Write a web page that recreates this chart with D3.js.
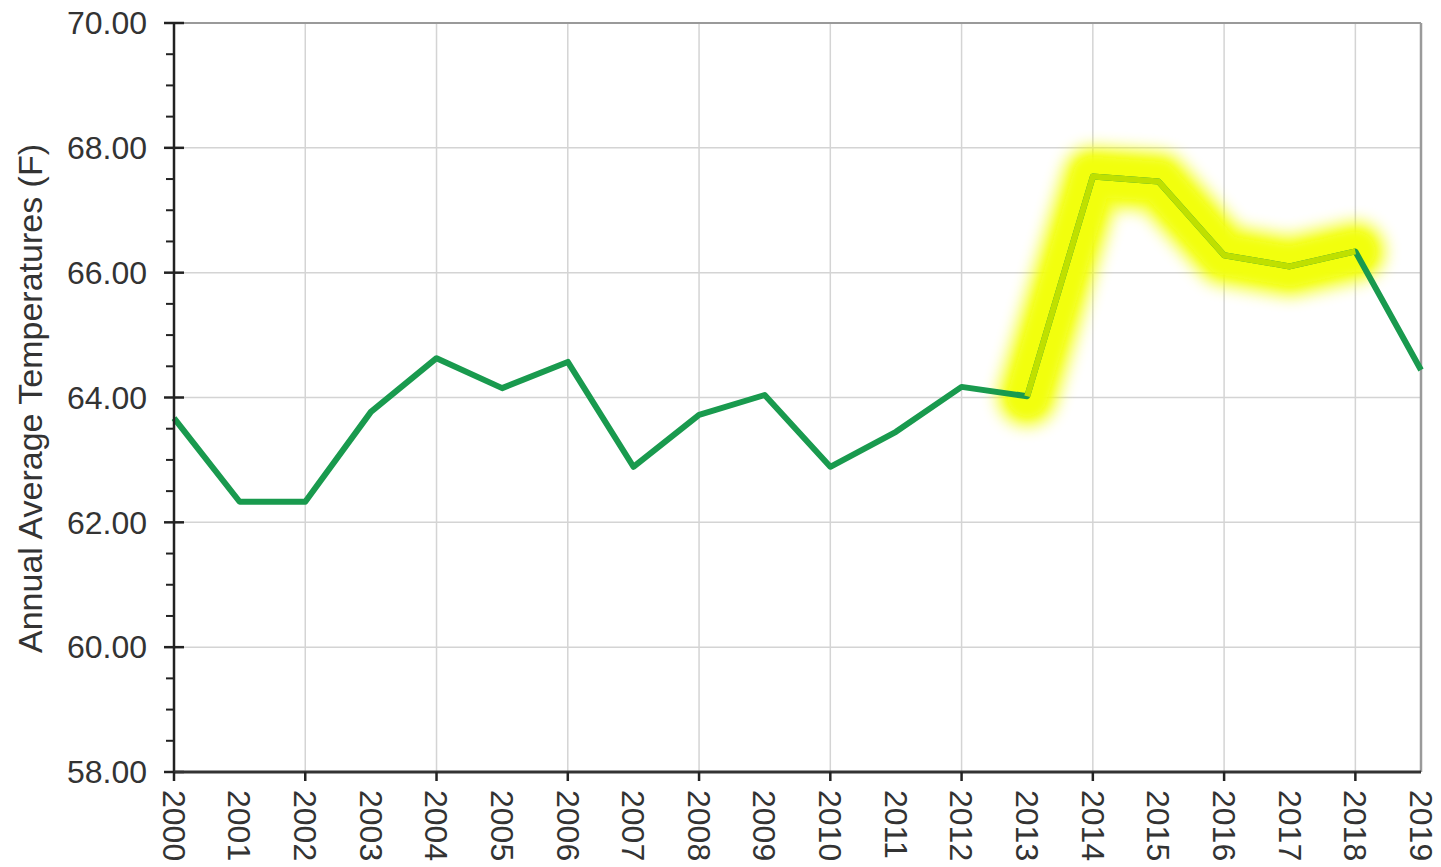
<!DOCTYPE html>
<html>
<head>
<meta charset="utf-8">
<script src="https://cdn.jsdelivr.net/npm/d3@7/dist/d3.min.js"></script>
<style>
  html, body { margin: 0; padding: 0; background: #fff; }
  svg { display: block; }
  text { font-family: "Liberation Sans", Arial, sans-serif; fill: #333; }
</style>
</head>
<body>
<svg id="chart" width="1441" height="867"></svg>
<script>
const years = [2000, 2001, 2002, 2003, 2004, 2005, 2006, 2007, 2008, 2009,
               2010, 2011, 2012, 2013, 2014, 2015, 2016, 2017, 2018, 2019];
const temps = [63.67, 62.33, 62.33, 63.77, 64.63, 64.15, 64.57, 62.89, 63.72, 64.04,
               62.89, 63.45, 64.17, 64.02, 67.54, 67.46, 66.28, 66.10, 66.34, 64.44];
const highlightYears = [2013, 2014, 2015, 2016, 2017, 2018];
const yMajorTicks = [58, 60, 62, 64, 66, 68, 70];
const yMinorTicks = d3.range(58, 70.01, 0.5);
const xGridYears = [2002, 2004, 2006, 2008, 2010, 2012, 2014, 2016, 2018];
const xTickYears = [2000, 2002, 2004, 2006, 2008, 2010, 2012, 2014, 2016, 2018];
const yTitle = "Annual Average Temperatures (F)";

const svg = d3.select("#chart");
const m = { left: 174, right: 1421, top: 23, bottom: 772 };

const x = d3.scaleLinear().domain([2000, 2019]).range([m.left, m.right]);
const y = d3.scaleLinear().domain([58, 70]).range([m.bottom, m.top]);

const defs = svg.append("defs");
defs.append("filter").attr("id", "glow")
  .attr("x", "-30%").attr("y", "-30%").attr("width", "160%").attr("height", "160%")
  .append("feGaussianBlur").attr("stdDeviation", 8);
defs.append("filter").attr("id", "glow2")
  .attr("x", "-30%").attr("y", "-30%").attr("width", "160%").attr("height", "160%")
  .append("feGaussianBlur").attr("stdDeviation", 4);

// grid lines
svg.append("g").selectAll("line").data(yMajorTicks.filter(d => d > 58 && d < 70)).join("line")
  .attr("x1", m.left).attr("x2", m.right)
  .attr("y1", d => y(d)).attr("y2", d => y(d))
  .attr("stroke", "#d4d4d4").attr("stroke-width", 1.5);
svg.append("g").selectAll("line").data(xGridYears).join("line")
  .attr("x1", d => x(d)).attr("x2", d => x(d))
  .attr("y1", m.top).attr("y2", m.bottom)
  .attr("stroke", "#d4d4d4").attr("stroke-width", 1.5);

// frame top/right
svg.append("line").attr("x1", m.left).attr("x2", m.right).attr("y1", y(70)).attr("y2", y(70))
  .attr("stroke", "#9a9a9a").attr("stroke-width", 2);
svg.append("line").attr("x1", x(2019)).attr("x2", x(2019)).attr("y1", m.top).attr("y2", m.bottom)
  .attr("stroke", "#9a9a9a").attr("stroke-width", 2.5);

const line = d3.line().x(d => x(d[0])).y(d => y(d[1]));
const pts = years.map((yr, i) => [yr, temps[i]]);
const hPts = pts.filter(p => highlightYears.includes(p[0]));

// highlight glow (under the line)
svg.append("path").datum(hPts)
  .attr("d", line)
  .attr("fill", "none")
  .attr("stroke", "#f2ff00")
  .attr("stroke-width", 60)
  .attr("stroke-linejoin", "round")
  .attr("stroke-linecap", "round")
  .attr("opacity", 0.85)
  .attr("filter", "url(#glow)");
svg.append("path").datum(hPts)
  .attr("d", line)
  .attr("fill", "none")
  .attr("stroke", "#f2ff08")
  .attr("stroke-width", 40)
  .attr("stroke-linejoin", "round")
  .attr("stroke-linecap", "round")
  .attr("filter", "url(#glow2)");

// data line
svg.append("path").datum(pts)
  .attr("d", line)
  .attr("fill", "none")
  .attr("stroke", "#199a4e")
  .attr("stroke-width", 6)
  .attr("stroke-linejoin", "round");

// line inside highlight, tinted
svg.append("path").datum(hPts)
  .attr("d", line)
  .attr("fill", "none")
  .attr("stroke", "#bfe000")
  .attr("stroke-width", 6)
  .attr("stroke-linejoin", "round");

// y axis
svg.append("line").attr("x1", m.left).attr("x2", m.left).attr("y1", m.top).attr("y2", m.bottom)
  .attr("stroke", "#222").attr("stroke-width", 2.5);
svg.append("g").selectAll("line").data(yMinorTicks.filter(d => !yMajorTicks.includes(d))).join("line")
  .attr("x1", m.left - 8).attr("x2", m.left)
  .attr("y1", d => y(d)).attr("y2", d => y(d))
  .attr("stroke", "#222").attr("stroke-width", 2);
svg.append("g").selectAll("line").data(yMajorTicks).join("line")
  .attr("x1", m.left - 10).attr("x2", m.left + 10)
  .attr("y1", d => y(d)).attr("y2", d => y(d))
  .attr("stroke", "#222").attr("stroke-width", 2.5);
svg.append("g").selectAll("text").data(yMajorTicks).join("text")
  .attr("x", m.left - 27).attr("y", d => y(d))
  .attr("dy", "0.35em")
  .attr("text-anchor", "end")
  .attr("font-size", 32)
  .text(d => d.toFixed(2));

// x axis
svg.append("line").attr("x1", m.left).attr("x2", m.right).attr("y1", m.bottom).attr("y2", m.bottom)
  .attr("stroke", "#333").attr("stroke-width", 3);
svg.append("g").selectAll("line").data(xTickYears).join("line")
  .attr("x1", d => x(d)).attr("x2", d => x(d))
  .attr("y1", m.bottom).attr("y2", m.bottom + 9)
  .attr("stroke", "#222").attr("stroke-width", 2.5);
svg.append("g").selectAll("text").data(years).join("text")
  .attr("transform", d => `translate(${x(d)},${m.bottom + 18}) rotate(90)`)
  .attr("dy", "0.35em")
  .attr("text-anchor", "start")
  .attr("font-size", 32)
  .text(d => d);

// y title
svg.append("text")
  .attr("transform", `translate(30,${(140 + 657) / 2}) rotate(-90)`)
  .attr("dy", "0.35em")
  .attr("text-anchor", "middle")
  .attr("font-size", 34)
  .text(yTitle);
</script>
</body>
</html>
